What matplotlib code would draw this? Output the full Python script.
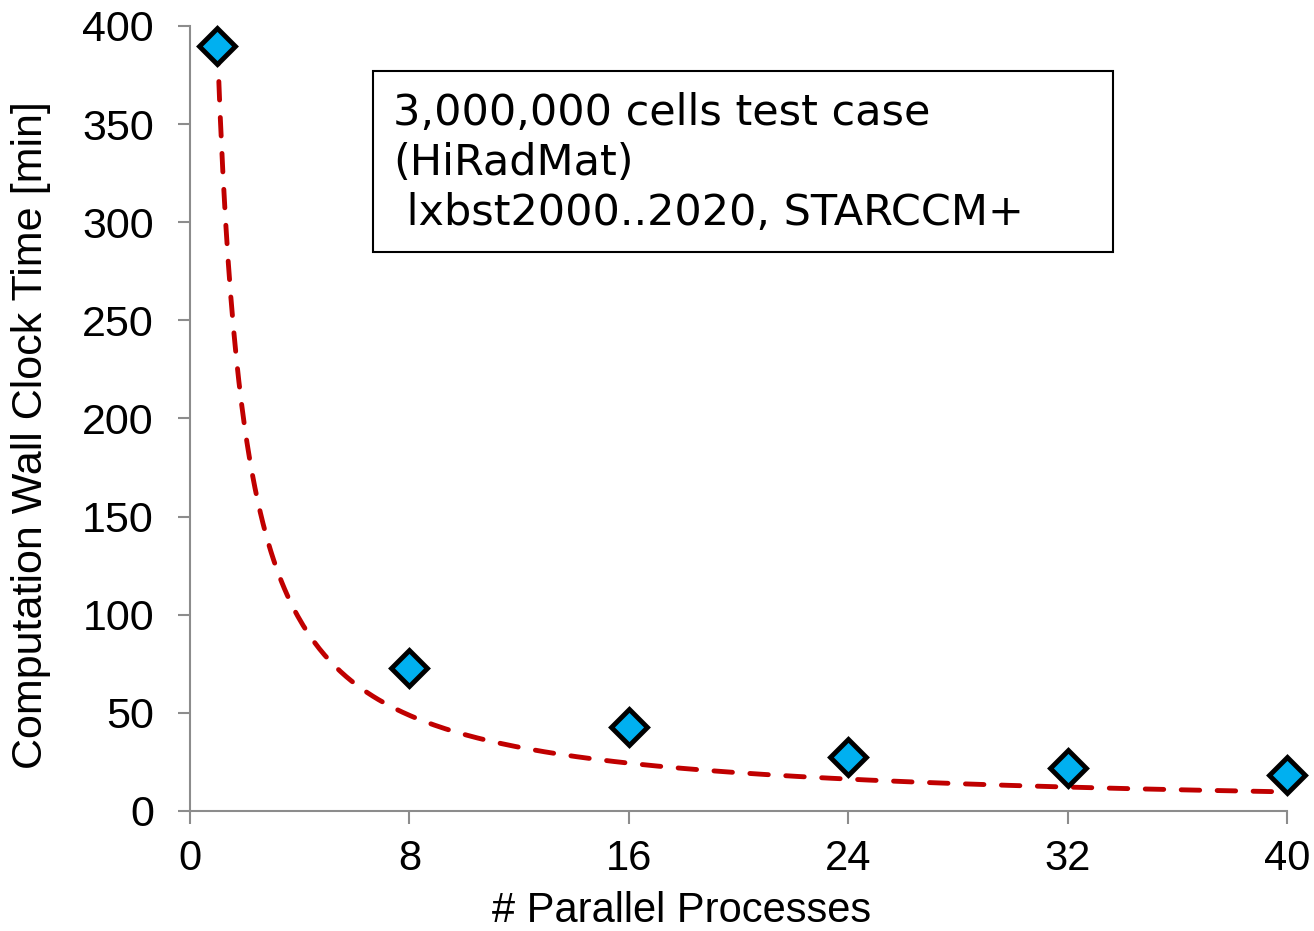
import numpy as np
import matplotlib
matplotlib.use("Agg")
import matplotlib.pyplot as plt
from matplotlib.patches import Rectangle

# measured wall clock times vs number of parallel processes
procs = [1, 8, 16, 24, 32, 40]
wall_time = [390, 73, 43, 27.5, 22, 18.3]

x_ticks = [0, 8, 16, 24, 32, 40]
y_ticks = [0, 50, 100, 150, 200, 250, 300, 350, 400]

box_lines = ["3,000,000 cells test case", "(HiRadMat)", " lxbst2000..2020, STARCCM+"]

plt.rcParams["font.family"] = ["Liberation Sans", "DejaVu Sans"]

fig = plt.figure(figsize=(13.14, 9.31), dpi=100)
ax = fig.add_axes([0.1446, 0.1289, 0.8349, 0.8432])

# ideal scaling line: t(1) * 1 / n
n = np.linspace(procs[0], procs[-1], 400)
ideal = wall_time[0] * procs[0] / n
ax.plot(n, ideal, color="#C00000", lw=3.5, linestyle=(0, (3.8, 3.6)),
        dash_capstyle="round", zorder=2)

ax.plot(procs, wall_time, linestyle="none", marker="D", markersize=18,
        markerfacecolor="#00B0F0", markeredgecolor="black",
        markeredgewidth=3.5, zorder=3, clip_on=False)

ax.set_xlim(0, 40)
ax.set_ylim(0, 400)
ax.set_xticks(x_ticks)
ax.set_yticks(y_ticks)

for side in ("top", "right"):
    ax.spines[side].set_visible(False)
for side in ("left", "bottom"):
    ax.spines[side].set_color("#8c8c8c")
    ax.spines[side].set_linewidth(1.5)

ax.tick_params(axis="x", direction="out", length=9, width=1.5,
               color="#8c8c8c", labelsize=30, pad=11)
ax.tick_params(axis="y", direction="out", length=9, width=1.5,
               color="#8c8c8c", labelsize=31, pad=17)

ax.set_xlabel("# Parallel Processes", fontsize=30, va="baseline")
ax.xaxis.set_label_coords(0.4485, -0.1412)
ax.set_ylabel("Computation Wall Clock Time [min]", fontsize=31)
ax.yaxis.set_label_coords(-0.127, 0.479)

# annotation box
ax.add_patch(Rectangle((0.1668, 0.7121), 0.6746, 0.2306, transform=ax.transAxes,
                       facecolor="white", edgecolor="black", linewidth=1.5,
                       zorder=4))
for i, line in enumerate(box_lines):
    ax.text(0.185, 0.8739 - i * 0.0637, line, transform=ax.transAxes,
            fontsize=31, family="DejaVu Sans", va="baseline", ha="left",
            zorder=5)

fig.savefig("out.png", dpi=100)
